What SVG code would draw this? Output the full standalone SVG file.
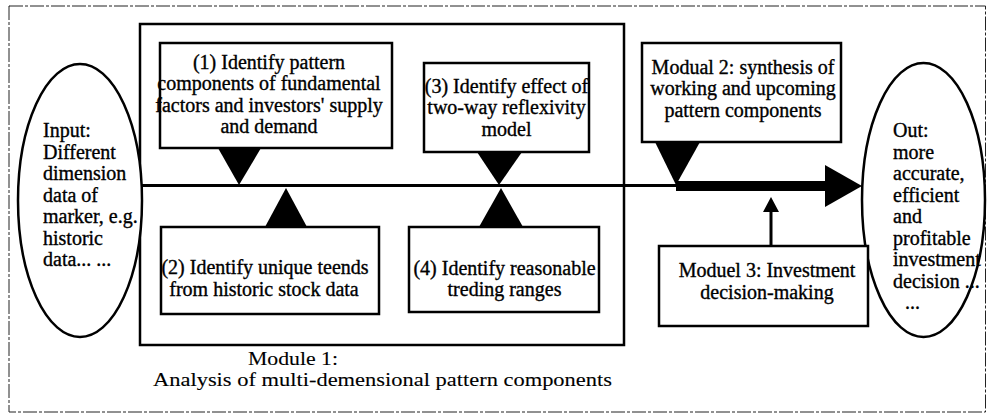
<svg xmlns="http://www.w3.org/2000/svg" width="987" height="417" viewBox="0 0 987 417">
<style>
.t{font-family:"Liberation Serif","Times New Roman",serif;font-size:20px;fill:#000;stroke:#000;stroke-width:0.35}
.l{stroke-width:0.1}
.c{text-anchor:middle}
.b{fill:#fff;stroke:#000;stroke-width:2.5}
.f{fill:#000;stroke:none}
</style>
<rect x="9" y="6" width="976.5" height="406" fill="none" stroke="#222" stroke-width="1" stroke-dasharray="14 2 3 2"/>
<g id="module1">
<rect class="b" x="140" y="24" width="484" height="321" stroke-width="3"/>
<text class="t l c" x="293" y="364.5" style="font-size:19px" textLength="90" lengthAdjust="spacingAndGlyphs">Module 1:</text>
<text class="t l c" x="382.5" y="385.5" style="font-size:19px" textLength="459" lengthAdjust="spacingAndGlyphs">Analysis of multi-demensional pattern components</text>
</g>
<g id="input">
<ellipse class="b" cx="80" cy="200.5" rx="62" ry="136.5"/>
<text class="t" x="43" y="137">Input:</text>
<text class="t" x="43" y="158.5">Different</text>
<text class="t" x="43" y="180">dimension</text>
<text class="t" x="43" y="201.5">data of</text>
<text class="t" x="43" y="223">marker, e.g.</text>
<text class="t" x="43" y="244.5">historic</text>
<text class="t" x="43" y="266">data... ...</text>
</g>
<g id="output">
<ellipse class="b" cx="923.5" cy="200" rx="61.5" ry="137"/>
<text class="t" x="893" y="137">Out:</text>
<text class="t" x="893" y="158.5">more</text>
<text class="t" x="893" y="180">accurate,</text>
<text class="t" x="893" y="201.5">efficient</text>
<text class="t" x="893" y="223">and</text>
<text class="t" x="893" y="244.5">profitable</text>
<text class="t" x="893" y="266">investment</text>
<text class="t" x="893" y="287.5">decision ...</text>
<text class="t" x="905" y="309">...</text>
</g>
<g id="step1">
<rect class="b" x="160" y="43" width="232" height="105"/>
<text class="t c" x="269" y="68.5">(1) Identify pattern</text>
<text class="t c" x="269" y="90">components of fundamental</text>
<text class="t c" x="269" y="111.5">factors and investors' supply</text>
<text class="t c" x="269" y="133">and demand</text>
</g>
<g id="step3">
<rect class="b" x="424" y="63" width="165" height="89"/>
<text class="t c" x="506.5" y="92.5">(3) Identify effect of</text>
<text class="t c" x="506.5" y="114">two-way reflexivity</text>
<text class="t c" x="506.5" y="135.5">model</text>
</g>
<g id="step2">
<rect class="b" x="161" y="227" width="218" height="87"/>
<text class="t c" x="265" y="274">(2) Identify unique teends</text>
<text class="t c" x="264" y="295.5">from historic stock data</text>
</g>
<g id="step4">
<rect class="b" x="409" y="227" width="190" height="85"/>
<text class="t c" x="504.5" y="275">(4) Identify reasonable</text>
<text class="t c" x="504.5" y="296">treding ranges</text>
</g>
<g id="module2">
<rect class="b" x="642" y="43" width="199" height="99"/>
<text class="t c" x="743" y="73.5">Modual 2: synthesis of</text>
<text class="t c" x="743" y="95">working and upcoming</text>
<text class="t c" x="743" y="116.5">pattern components</text>
</g>
<g id="module3">
<rect class="b" x="659" y="246" width="209" height="80"/>
<text class="t c" x="767" y="277">Moduel 3: Investment</text>
<text class="t c" x="767" y="298.5">decision-making</text>
</g>
<g id="connectors">
<line x1="141.5" y1="185.5" x2="678" y2="185.5" stroke="#000" stroke-width="3"/>
<polygon class="f" points="218,148 261,148 239,185"/>
<polygon class="f" points="477,152 522,152 499,185"/>
<polygon class="f" points="265,227 307,227 286,188"/>
<polygon class="f" points="479,227 523,227 501,188"/>
<polygon class="f" points="655,142 700,142 676,185"/>
<rect class="f" x="676" y="181" width="150" height="10"/>
<polygon class="f" points="825,165 862,186 825,207"/>
<line x1="771" y1="246" x2="771" y2="210" stroke="#000" stroke-width="3"/>
<polygon class="f" points="763,212 771,197 779,212"/>
</g>
</svg>
